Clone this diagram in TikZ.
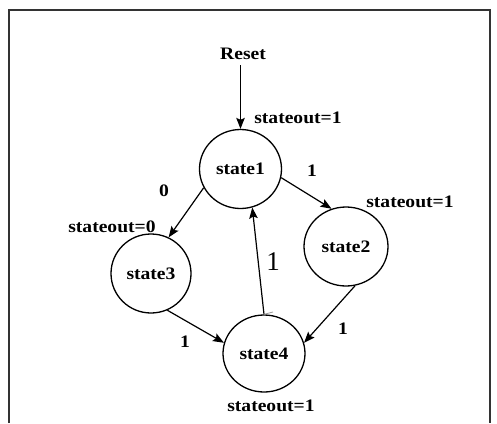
\documentclass[tikz,border=0pt]{standalone}
\usepackage{fontspec}
\setmainfont[FakeStretch=1.12]{Liberation Serif}
\newfontfamily\plainone{Liberation Serif}
\usetikzlibrary{arrows.meta,shapes.geometric}
\begin{document}
\begin{tikzpicture}[x=1pt,y=-1pt,
  statenode/.style={ellipse,draw,line width=1.3pt,minimum width=82pt,minimum height=79pt,inner sep=0pt,font=\fontsize{17.5}{17.5}\selectfont\bfseries},
  lbl/.style={inner sep=0pt,font=\fontsize{17.5}{17.5}\selectfont\bfseries},
  trans/.style={line width=1.2pt,-{Stealth[length=11pt,width=8.5pt,inset=2pt]}}]
\useasboundingbox (0,0) rectangle (497,423);
\fill[white] (0,0) rectangle (497,423);
% frame, open at the bottom
\draw[line width=1.6pt,black!80] (9,423) -- (9,10) -- (490,10) -- (490,423);

% states
\node[statenode] (s1) at (240.5,169) {state1};
\node[statenode,minimum width=84pt] (s2) at (346,246.5) {state2};
\node[statenode,minimum width=80pt] (s3) at (151,273.5) {state3};
\node[statenode,minimum height=77pt] (s4) at (264,353.5) {state4};

% reset input and output annotations
\node[lbl] (reset) at (243,54) {Reset};
\node[lbl] (o1) at (298,118) {stateout=1};
\node[lbl] (o2) at (410,202) {stateout=1};
\node[lbl] (o3) at (112,227) {stateout=0};
\node[lbl] (o4) at (271,406) {stateout=1};

% transition labels
\node[lbl] (l13) at (164,191) {0};
\node[lbl] (l12) at (312,171) {1};
\node[inner sep=0pt,font=\fontsize{27}{27}\plainone] (l41) at (273,262) {1};
\node[lbl] (l34) at (185,342) {1};
\node[lbl] (l24) at (343,329) {1};

% transitions
\draw[trans] (reset.south -| s1.north) ++(0,5) coordinate (rs) (rs) -- (s1.north);
\draw[trans] (s1.207) -- (s3.64);
\draw[trans] (s1.348) -- (s2.111);
\draw[trans] (s4.north) -- (s1.287);
\draw[trans] (s3.294) -- (s4.165);
\draw[trans] (s2.283) -- (s4.15);
\coordinate (tk) at (273,312);
\draw[black!40,line width=0.8pt] (s4.north) -- (tk);
\end{tikzpicture}
\end{document}
